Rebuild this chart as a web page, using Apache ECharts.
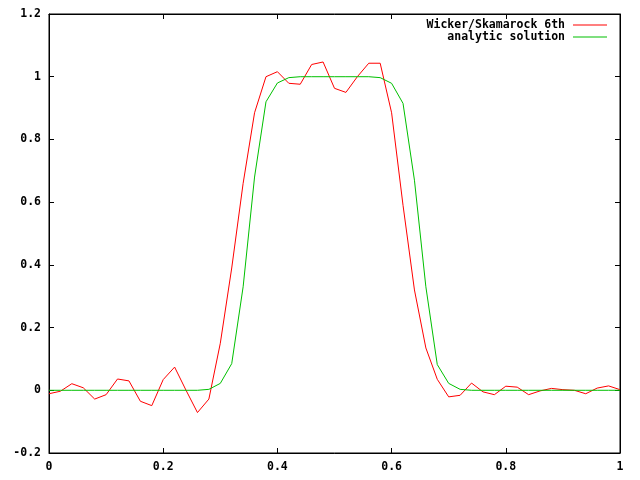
<!DOCTYPE html>
<html>
<head>
<meta charset="utf-8">
<script src="https://cdn.jsdelivr.net/npm/echarts@6/dist/echarts.min.js"></script>
<style>html,body{margin:0;padding:0;background:#fff;}#c{width:640px;height:480px;}</style>
</head>
<body>
<div id="c"></div>
<script>
var xs = [0,0.02,0.04,0.06,0.08,0.10,0.12,0.14,0.16,0.18,0.20,0.22,0.24,0.26,0.28,0.30,0.32,0.34,0.36,0.38,0.40,0.42,0.44,0.46,0.48,0.50,0.52,0.54,0.56,0.58,0.60,0.62,0.64,0.66,0.68,0.70,0.72,0.74,0.76,0.78,0.80,0.82,0.84,0.86,0.88,0.90,0.92,0.94,0.96,0.98,1.00];
var wicker = [-0.011,-0.003,0.021,0.008,-0.028,-0.014,0.036,0.030,-0.035,-0.049,0.034,0.074,0.0,-0.071,-0.028,0.15,0.39,0.66,0.885,1.0,1.016,0.979,0.976,1.039,1.047,0.963,0.950,1.0,1.043,1.043,0.885,0.59,0.32,0.135,0.035,-0.021,-0.016,0.023,-0.005,-0.014,0.013,0.010,-0.014,-0.002,0.006,0.002,0.0,-0.011,0.007,0.014,0.002];
var analytic = [0,0,0,0,0,0,0,0,0,0,0,0,0,0,0.003,0.022,0.085,0.33,0.68,0.92,0.98,0.997,1,1,1,1,1,1,1,0.997,0.979,0.915,0.67,0.33,0.082,0.022,0.003,0,0,0,0,0,0,0,0,0,0,0,0,0,0];
var seriesNames = ['Wicker/Skamarock 6th', 'analytic solution'];

function pairs(ys){ return xs.map(function(x,i){ return [x, ys[i]]; }); }

var font = {fontFamily: 'DejaVu Sans Mono', fontSize: 11.5, fontWeight: 'bold', color: '#000'};
var legendFont = Object.assign({padding: [0, 3, 0, 0]}, font);
var tick = {show: true, inside: true, length: 5, lineStyle: {color: '#000'}};
var line = {show: true, onZero: false, lineStyle: {color: '#000'}};
var chart = echarts.init(document.getElementById('c'), null, {renderer: 'canvas'});
chart.setOption({
  animation: false,
  backgroundColor: '#fff',
  grid: {left: 49, right: 20, top: 14, bottom: 27, show: true, borderColor: '#000', borderWidth: 1, backgroundColor: 'transparent'},
  legend: [
    {data: [seriesNames[0]], orient: 'vertical', align: 'right', right: 33, top: 19, icon: 'rect', itemWidth: 34, itemHeight: 1, itemGap: 0, padding: 0, textStyle: legendFont},
    {data: [seriesNames[1]], orient: 'vertical', align: 'right', right: 33, top: 31, icon: 'rect', itemWidth: 34, itemHeight: 1, itemGap: 0, padding: 0, textStyle: legendFont}
  ],
  xAxis: [
    {type: 'value', min: 0, max: 1, interval: 0.2, position: 'bottom',
     axisLine: line, axisTick: tick, axisLabel: Object.assign({margin: 8}, font), splitLine: {show: false}},
    {type: 'value', min: 0, max: 1, interval: 0.2, position: 'top',
     axisLine: line, axisTick: tick, axisLabel: {show: false}, splitLine: {show: false}}
  ],
  yAxis: [
    {type: 'value', min: -0.2, max: 1.2, interval: 0.2, position: 'left',
     axisLine: line, axisTick: tick, axisLabel: Object.assign({margin: 8}, font), splitLine: {show: false}},
    {type: 'value', min: -0.2, max: 1.2, interval: 0.2, position: 'right',
     axisLine: line, axisTick: tick, axisLabel: {show: false}, splitLine: {show: false}}
  ],
  series: [
    {name: seriesNames[0], type: 'line', data: pairs(wicker), symbol: 'none', showSymbol: false,
     lineStyle: {color: '#ff0000', width: 1}, itemStyle: {color: '#ff0000'}},
    {name: seriesNames[1], type: 'line', data: pairs(analytic), symbol: 'none', showSymbol: false,
     lineStyle: {color: '#00c000', width: 1}, itemStyle: {color: '#00c000'}}
  ]
});
</script>
</body>
</html>
